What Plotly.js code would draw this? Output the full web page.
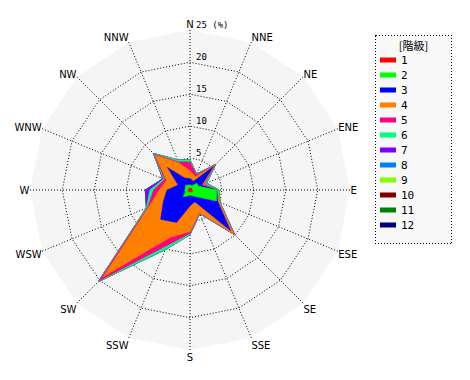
<!DOCTYPE html>
<html>
<head>
<meta charset="utf-8">
<script src="https://cdn.plot.ly/plotly-3.0.1.min.js"></script>
<style>html,body{margin:0;padding:0;background:#fff;}#chart{width:470px;height:380px;}</style>
</head>
<body>
<div id="chart"></div>
<script>
// 16 wind directions (clockwise from N)
const directions = ["N","NNE","NE","ENE","E","ESE","SE","SSE","S","SSW","SW","WSW","W","WNW","NW","NNW"];
const classNames = ["1","2","3","4","5","6","7","8","9","10","11","12"];
const classColors = ["#ff0000","#00ff00","#0000ff","#ff8000","#ff0080","#00ff80","#8000ff","#0080ff","#80ff00","#800000","#008000","#000080"];
const radialTicks = [5, 10, 15, 20, 25];
const radialTickText = ["5", "10", "15", "20", "25 (%)"];

// frequency (%) of each class per direction (order of `directions`)
const class1  = [0.3,0.3,0.4,0.3,0.4,0.4,0.5,0.3,0.3,0.3,0.4,0.3,0.3,0.3,0.3,0.3];
const class2  = [0.5,0.4,1.1,1.2,3.8,4.1,1.0,0.7,0.5,0.7,1.1,0.5,0.5,0.5,0.7,0.5];
const class3  = [1.0,0.8,3.7,0.5,0.0,0.2,7.5,1.0,1.7,4.5,5.0,3.7,2.8,1.2,4.0,1.2];
const class4  = [1.2,0.8,0.3,0.3,0.0,0.3,0.7,1.8,4.0,2.5,12.7,2.5,1.2,2.0,2.7,2.6];
const class5  = [1.4,0.3,0.1,0.2,0.0,0.0,0.1,0.1,0.3,1.4,0.9,0.2,0.9,0.3,0.2,0.2];
const class6  = [0.3,0.1,0.1,0.3,0.3,0.1,0.1,0.1,0.2,0.7,0.2,0.2,0.6,0.2,0.2,0.3];
const class7  = [0.0,0.0,0.0,0.0,0.0,0.0,0.0,0.0,0.0,0.0,0.0,0.0,0.7,0.1,0.0,0.0];
const class8  = [0,0,0,0,0,0,0,0,0,0,0,0,0,0,0,0];
const class9  = [0,0,0,0,0,0,0,0,0,0,0,0,0,0,0,0];
const class10 = [0,0,0,0,0,0,0,0,0,0,0,0,0,0,0,0];
const class11 = [0,0,0,0,0,0,0,0,0,0,0,0,0,0,0,0];
const class12 = [0,0,0,0,0,0,0,0,0,0,0,0,0,0,0,0];
const classValues = [class1,class2,class3,class4,class5,class6,class7,class8,class9,class10,class11,class12];

// cumulative totals per class
const cumulative = [];
let running = directions.map(() => 0);
classValues.forEach(vals => {
  running = running.map((r, i) => r + vals[i]);
  cumulative.push(running.slice());
});

const traces = [];
for (let k = classValues.length - 1; k >= 0; k--) {
  traces.push({
    type: "scatterpolar",
    r: cumulative[k].concat([cumulative[k][0]]),
    theta: directions.concat([directions[0]]),
    mode: "lines",
    fill: "toself",
    fillcolor: classColors[k],
    line: {color: classColors[k], width: 0.5},
    name: classNames[k],
    hoverinfo: "skip"
  });
}

// polar geometry (pixels)
const W = 470, H = 380, CX = 190, CY = 190, R = 160;
const RRANGE = 25.05;

const annotations = radialTicks.map((v, i) => ({
  xref: "paper", yref: "paper",
  x: (CX + 4) / W,
  y: (H - CY + v / RRANGE * R) / H,
  xanchor: "left", yanchor: "bottom",
  text: radialTickText[i],
  showarrow: false,
  font: {family: "DejaVu Sans Mono, monospace", size: 9, color: "#000"},
  yshift: -2
}));

const layout = {
  width: W,
  height: H,
  margin: {l: 0, r: 0, t: 0, b: 0},
  paper_bgcolor: "#ffffff",
  font: {family: "DejaVu Sans Mono, monospace", size: 11, color: "#000"},
  polar: {
    domain: {x: [(CX - R)/W, (CX + R)/W], y: [(H - CY - R)/H, (H - CY + R)/H]},
    bgcolor: "#f5f5f5",
    gridshape: "linear",
    angularaxis: {
      type: "category",
      categoryarray: directions,
      direction: "clockwise",
      rotation: 90,
      showline: false,
      showgrid: true,
      gridcolor: "#000",
      griddash: "1px,2px",
      gridwidth: 1,
      ticks: "",
      tickfont: {family: "DejaVu Sans, sans-serif", size: 10, color: "#000"}
    },
    radialaxis: {
      range: [0, RRANGE],
      angle: 90,
      tickvals: radialTicks,
      showticklabels: false,
      showline: false,
      ticks: "",
      gridcolor: "#000",
      griddash: "1px,2px",
      gridwidth: 1
    }
  },
  annotations: annotations,
  showlegend: true,
  legend: {
    x: 375/W, y: 1 - 35/H, xanchor: "left", yanchor: "top",
    bgcolor: "#f8f8f8",
    bordercolor: "#000",
    borderwidth: 1,
    traceorder: "reversed",
    itemwidth: 30,
    font: {family: "DejaVu Sans Mono, monospace", size: 11, color: "#000"},
    title: {text: "[階級]", side: "top center", font: {family: "Noto Sans CJK JP, sans-serif", size: 11, color: "#000"}}
  }
};

const gd = document.getElementById("chart");
Plotly.newPlot(gd, traces, layout, {displayModeBar: false, staticPlot: true}).then(() => {
  // tighten legend to match the compact original
  const legend = gd.querySelector(".legend");
  if (!legend) return;
  const parse = el => {
    const m = /translate\(\s*([-\d.e]+)[\s,]+([-\d.e]+)\s*\)/.exec(el.getAttribute("transform") || "");
    return m ? [parseFloat(m[1]), parseFloat(m[2])] : [0, 0];
  };
  const items = Array.from(legend.querySelectorAll(".traces"));
  items.sort((a, b) => parse(a)[1] - parse(b)[1]);
  if (items.length) {
    const x0 = parse(items[0])[0];
    const y0 = 25;
    items.forEach((el, i) => {
      el.setAttribute("transform", "translate(" + x0 + "," + (y0 + i * 15) + ")");
      const t = el.querySelector(".legendtext");
      if (t) t.setAttribute("x", 25);
      el.querySelectorAll(".legendfill path").forEach(p => p.setAttribute("d", "M4,-2.5h16v5h-16z"));
      el.querySelectorAll(".legendlines path").forEach(p => p.setAttribute("d", "M4,0h16"));
    });
  }
  const bg = legend.querySelector(".bg");
  if (bg) {
    bg.setAttribute("width", 76);
    bg.setAttribute("height", 208);
    bg.style.strokeDasharray = "1px,2px";
  }
  document.querySelectorAll("clipPath[id*='legend'] rect").forEach(r => {
    r.setAttribute("width", 76); r.setAttribute("height", 208);
  });
  const tt = legend.querySelector(".legendtitletext");
  if (tt && bg) {
    const bb = bg.getBoundingClientRect();
    const tb = tt.getBoundingClientRect();
    const dx = (bb.left + bb.width / 2) - (tb.left + tb.width / 2);
    const cur = parseFloat(tt.getAttribute("x")) || 0;
    tt.setAttribute("x", cur + dx);
  }
});
</script>
</body>
</html>
